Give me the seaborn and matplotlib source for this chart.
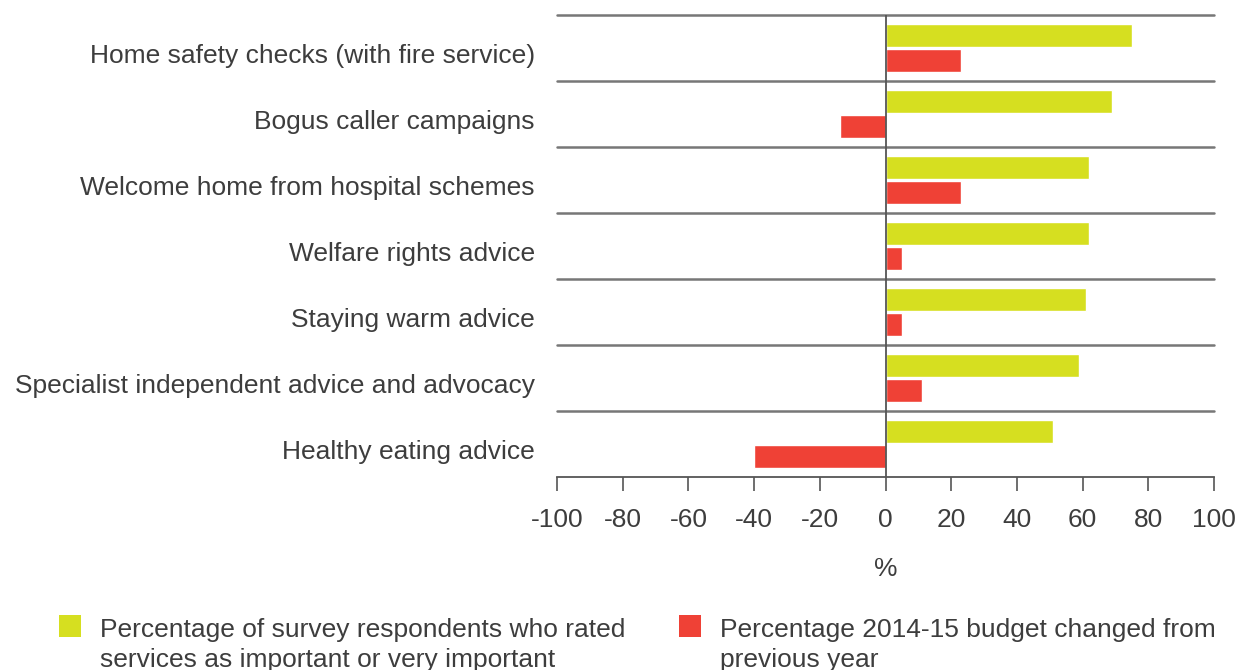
import matplotlib
matplotlib.use("Agg")
import matplotlib.pyplot as plt
import matplotlib.transforms as mtransforms
import seaborn as sns
import pandas as pd
from matplotlib.patches import Rectangle

categories = [
    "Home safety checks (with fire service)",
    "Bogus caller campaigns",
    "Welcome home from hospital schemes",
    "Welfare rights advice",
    "Staying warm advice",
    "Specialist independent advice and advocacy",
    "Healthy eating advice",
]
important = [75, 69, 62, 62, 61, 59, 51]
budget_change = [23, -14, 23, 5, 5, 11, -40]
series_names = [
    "Percentage of survey respondents who rated\nservices as important or very important",
    "Percentage 2014-15 budget changed from\nprevious year",
]
x_ticks = [-100, -80, -60, -40, -20, 0, 20, 40, 60, 80, 100]

colors = ["#d6df20", "#ef4136"]
text_color = "#3d3d3d"
grey = "#777777"

df = pd.DataFrame({
    "category": categories * 2,
    "value": important + budget_change,
    "series": [series_names[0]] * len(categories) + [series_names[1]] * len(categories),
})

sns.set_theme(style="white")
plt.rcParams["font.family"] = ["Liberation Sans", "DejaVu Sans"]

W, H = 1235, 670
fig = plt.figure(figsize=(W / 100, H / 100), dpi=100)
ax = fig.add_axes([557 / W, 1 - 477 / H, (1214 - 557) / W, (477 - 15) / H])

sns.barplot(data=df, y="category", x="value", hue="series", orient="h",
            palette=colors, width=0.76, gap=0.06, saturation=1,
            ax=ax, legend=False, order=categories, hue_order=series_names)

fs = 19
ax.set_xlim(-100, 100)
ax.set_ylim(len(categories) - 0.5, -0.5)
ax.set_xticks(x_ticks)
ax.set_xticklabels([str(t) for t in x_ticks])
ax.set_xlabel("%", fontsize=fs, color=text_color, labelpad=18)
ax.set_ylabel("")

for s in ["top", "left", "right"]:
    ax.spines[s].set_visible(False)
ax.spines["bottom"].set_color("#555555")
ax.spines["bottom"].set_linewidth(1.3)

ax.tick_params(axis="x", bottom=True, direction="out", length=10, width=1.2, color="#555555",
               labelsize=fs, labelcolor=text_color, pad=12)
ax.tick_params(axis="y", left=False, length=0, labelsize=fs, labelcolor=text_color, pad=16)

offset = mtransforms.ScaledTranslation(0, -5 / 100, fig.dpi_scale_trans)
for lab in ax.get_yticklabels():
    lab.set_transform(lab.get_transform() + offset)

for k in range(len(categories)):
    ax.axhline(k - 0.5, color=grey, lw=1.8, clip_on=False, zorder=0)
ax.axvline(0, color="#555555", lw=1.3, zorder=3)

# legend (square aligned with the first text line, as in the reference)
legend_x = [59, 679]
for x0, c, name in zip(legend_x, colors, series_names):
    fig.add_artist(Rectangle((x0 / W, 1 - 637 / H), 22 / W, 22 / H,
                             transform=fig.transFigure, facecolor=c, edgecolor="none"))
    lines = name.split("\n")
    for i, line in enumerate(lines):
        fig.text((x0 + 41) / W, 1 - (637 + 30 * i) / H, line, fontsize=fs,
                 color=text_color, ha="left", va="baseline")

fig.savefig("out.png", dpi=100)
